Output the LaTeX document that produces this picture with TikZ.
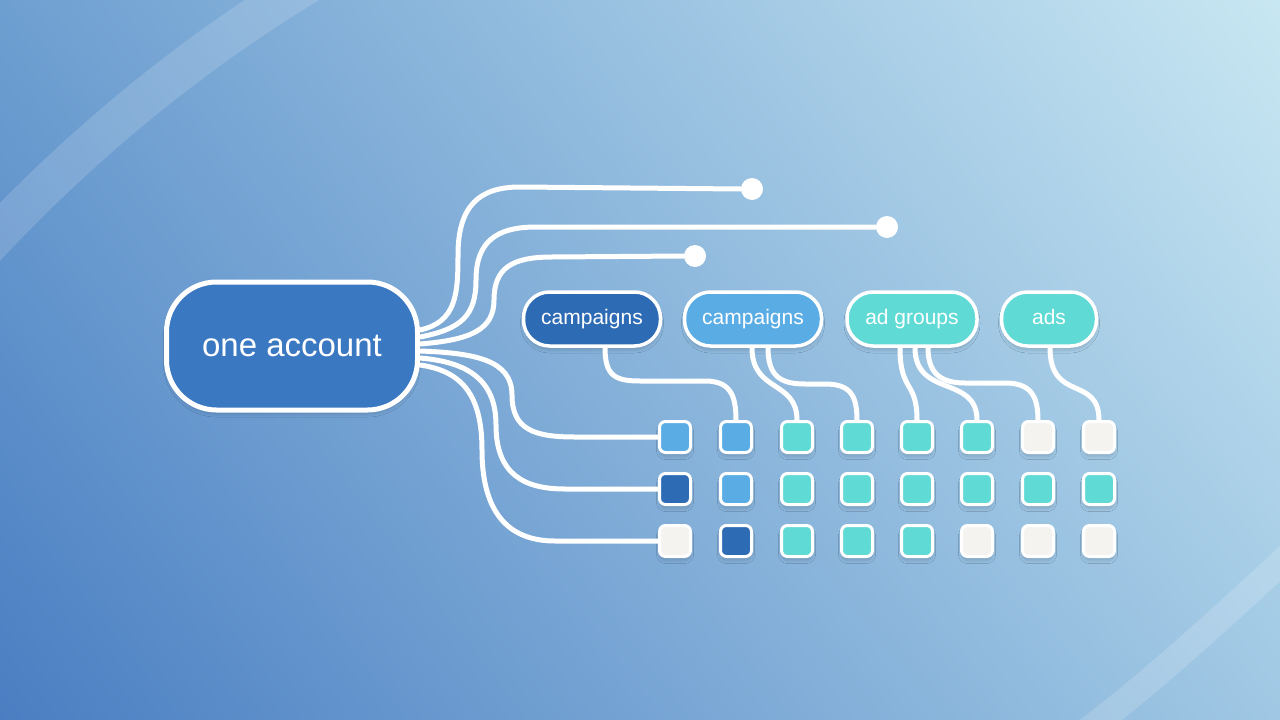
\documentclass[tikz,border=0pt]{standalone}
\usepackage{fontspec}
\setmainfont{Liberation Sans}
\usetikzlibrary{shadows.blur,shadings}
\definecolor{bgTL}{HTML}{6E9FD1}
\definecolor{bgTR}{HTML}{C8E7F2}
\definecolor{bgBL}{HTML}{4A7EC2}
\definecolor{bgBR}{HTML}{A0C8E4}
\definecolor{mainblue}{HTML}{3B78C2}
\definecolor{darkblue}{HTML}{2E6BB5}
\definecolor{lightblue}{HTML}{5AACE5}
\definecolor{teal}{HTML}{5FDAD5}
\definecolor{offwhite}{HTML}{F4F3EF}
\tikzset{
  shad/.style={blur shadow={shadow xshift=0pt,shadow yshift=-4pt,shadow blur steps=6,shadow opacity=14,shadow blur radius=3pt}},
  mainbox/.style={shad,draw=white,line width=5pt,fill=mainblue,rounded corners=50pt,minimum width=251pt,minimum height=128pt,text=white,font=\fontsize{33}{38}\selectfont},
  pill/.style={shad,draw=white,line width=3.5pt,rounded corners=26pt,minimum height=54pt,text height=15pt,text depth=4pt,text=white,font=\fontsize{21}{25}\selectfont},
  sq/.style={shad,draw=white,line width=3pt,rounded corners=6pt,minimum size=31pt,inner sep=0pt},
  wire/.style={draw=white,line width=5pt,line cap=round},
  dot/.style={circle,fill=white,minimum size=22pt,inner sep=0pt},
}
\begin{document}
\begin{tikzpicture}[x=1pt,y=-1pt]
\useasboundingbox (0,0) rectangle (1280,720);
\shade[upper left=bgTL,upper right=bgTR,lower left=bgBL,lower right=bgBR] (0,0) rectangle (1280,720);
% soft light bands
\draw[white,opacity=0.15,line width=40pt] (-30,264) .. controls (75,148) and (195,50) .. (322,-25);
\draw[white,opacity=0.16,line width=26pt] (1075,740) .. controls (1155,680) and (1230,610) .. (1300,545);

% main node
\node[mainbox] (main) at (292,346) {one account};

% end dots
\node[dot] (c1) at (752,189) {};
\node[dot] (c2) at (887,227) {};
\node[dot] (c3) at (695,256) {};

% category pills
\node[pill,fill=darkblue,minimum width=137pt] (p1) at (592,319) {campaigns};
\node[pill,fill=lightblue,minimum width=137pt] (p2) at (753,319) {campaigns};
\node[pill,fill=teal,minimum width=130pt] (p3) at (912,319) {ad groups};
\node[pill,fill=teal,minimum width=95pt] (p4) at (1049,319) {ads};

% grid of squares
\foreach \c/\x in {1/675,2/736,3/797,4/857,5/917,6/977,7/1038,8/1099}{
  \foreach \r/\y in {1/437,2/489,3/541}{
    \coordinate (g\r\c) at (\x,\y);
  }
}
\foreach \r/\c/\col in {
 1/1/lightblue,1/2/lightblue,1/3/teal,1/4/teal,1/5/teal,1/6/teal,1/7/offwhite,1/8/offwhite,
 2/1/darkblue,2/2/lightblue,2/3/teal,2/4/teal,2/5/teal,2/6/teal,2/7/teal,2/8/teal,
 3/1/offwhite,3/2/darkblue,3/3/teal,3/4/teal,3/5/teal,3/6/offwhite,3/7/offwhite,3/8/offwhite}{
  \node[sq,fill=\col] (s\r\c) at (g\r\c) {};
}

% wires from main node to top dots
\draw[wire] ([yshift=16pt]main.east) .. controls +(36,-8) and +(0,40) .. (458,255)
   .. controls +(0,-50) and +(-40,0) .. (520,187) -- (c1.west);
\draw[wire] ([yshift=9pt]main.east) .. controls +(42,-8) and +(0,35) .. (476,280)
   .. controls +(0,-38) and +(-40,0) .. (536,227) -- (c2.west);
\draw[wire] ([yshift=2pt]main.east) .. controls +(50,-4) and +(0,30) .. (494,300)
   .. controls +(0,-32) and +(-40,0) .. (552,257) -- (c3.west);

% wires from main node to rows
\draw[wire] ([yshift=-5pt]main.east) .. controls +(55,2) and +(0,-35) .. (512,395)
   .. controls +(0,35) and +(-40,0) .. (575,437) -- (s11.west);
\draw[wire] ([yshift=-12pt]main.east) .. controls +(48,4) and +(0,-45) .. (496,425)
   .. controls +(0,50) and +(-40,0) .. (565,489) -- (s21.west);
\draw[wire] ([yshift=-19pt]main.east) .. controls +(42,6) and +(0,-55) .. (482,450)
   .. controls +(0,70) and +(-40,0) .. (555,541) -- (s31.west);

% wires from pills to squares
\draw[wire] ([xshift=13pt]p1.south) .. controls +(0,28) and +(-25,0) .. (640,381)
   -- (705,381) .. controls +(25,0) and +(0,-25) .. (s12.north);
\draw[wire] ([xshift=-1pt]p2.south) .. controls +(0,45) and +(0,-40) .. (s13.north);
\draw[wire] ([xshift=15pt]p2.south) .. controls +(0,28) and +(-25,0) .. (805,384)
   -- (825,384) .. controls +(25,0) and +(0,-25) .. (s14.north);
\draw[wire] ([xshift=-12pt]p3.south) .. controls +(0,45) and +(0,-40) .. (s15.north);
\draw[wire] ([xshift=3pt]p3.south) .. controls +(0,50) and +(0,-45) .. (s16.north);
\draw[wire] ([xshift=16pt]p3.south) .. controls +(0,25) and +(-25,0) .. (965,383)
   -- (1005,383) .. controls +(25,0) and +(0,-25) .. (s17.north);
\draw[wire] ([xshift=1pt]p4.south) .. controls +(0,55) and +(0,-45) .. (s18.north);
\end{tikzpicture}
\end{document}
